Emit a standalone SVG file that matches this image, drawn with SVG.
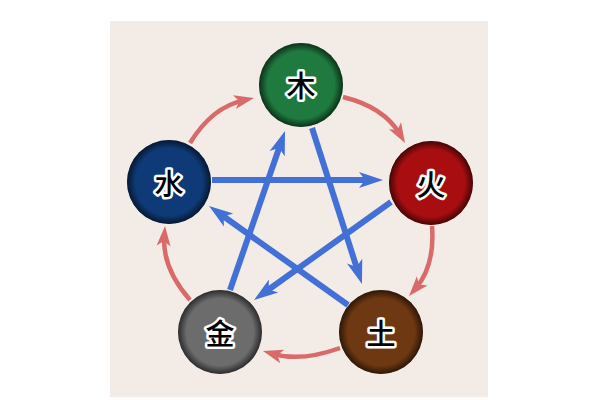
<svg xmlns="http://www.w3.org/2000/svg" width="600" height="400" viewBox="0 0 600 400">
<defs>
<style>
.bg{fill:#f3ebe6}
.node{stroke:none}
.rim{fill:url(#rim)}
.lbl{font-family:"Noto Sans CJK SC","Noto Sans CJK TC",sans-serif;font-size:29px;font-weight:500;fill:#000;stroke:#fff;stroke-width:5px;paint-order:stroke;stroke-linejoin:round;text-anchor:middle}
.gen{fill:none;stroke:#d96a6a;stroke-width:4.5;marker-end:url(#ra)}
.ctl{fill:none;stroke:#4270d6;stroke-width:6;marker-end:url(#ba)}
</style>
<radialGradient id="rim" cx="0.5" cy="0.5" r="0.5">
<stop offset="0.8" stop-color="#000" stop-opacity="0"/>
<stop offset="1" stop-color="#000" stop-opacity="0.6"/>
</radialGradient>
<marker id="ra" viewBox="-12 -9 24 18" refX="0" refY="0" markerWidth="24" markerHeight="18" markerUnits="userSpaceOnUse" orient="auto">
<path d="M10,0 L-10,-7 L-5,0 L-10,7 Z" fill="#d96a6a"/>
</marker>
<marker id="ba" viewBox="-14 -10 28 20" refX="0" refY="0" markerWidth="28" markerHeight="20" markerUnits="userSpaceOnUse" orient="auto">
<path d="M12,0 L-12,-8 L-6,0 L-12,8 Z" fill="#4270d6"/>
</marker>
</defs>
<rect class="bg" x="110" y="21" width="378" height="376"/>
<g id="connectors">
<path class="gen" d="M190,143 Q212,107 244.2,100.1"/>
<path class="gen" d="M343,97 Q384,107 400,134.4"/>
<path class="gen" d="M432,226 Q435,266 415.6,288.4"/>
<path class="gen" d="M340,348 Q301,362 272.6,353.8"/>
<path class="gen" d="M190,300 Q162,268 164.3,236"/>
<path class="ctl" d="M212,180 L371,180"/>
<path class="ctl" d="M312,128 L358.3,272.6"/>
<path class="ctl" d="M230,290 L281.1,142.3"/>
<path class="ctl" d="M391,202 L263.8,293"/>
<path class="ctl" d="M348,305 L218.8,213"/>
</g>
<g id="wood">
<circle class="node" cx="301" cy="85" r="42" fill="#1f7a3f"/>
<circle class="rim" cx="301" cy="85" r="42"/>
<text class="lbl" x="301" y="97">木</text>
</g>
<g id="fire">
<circle class="node" cx="431" cy="183" r="42" fill="#a80e10"/>
<circle class="rim" cx="431" cy="183" r="42"/>
<text class="lbl" x="431" y="196">火</text>
</g>
<g id="earth">
<circle class="node" cx="381" cy="332" r="42" fill="#6e3812"/>
<circle class="rim" cx="381" cy="332" r="42"/>
<text class="lbl" x="381" y="345">土</text>
</g>
<g id="metal">
<circle class="node" cx="220" cy="332" r="42" fill="#6c6c6c"/>
<circle class="rim" cx="220" cy="332" r="42"/>
<text class="lbl" x="220" y="345">金</text>
</g>
<g id="water">
<circle class="node" cx="169" cy="182" r="42" fill="#0f3a78"/>
<circle class="rim" cx="169" cy="182" r="42"/>
<text class="lbl" x="169" y="195">水</text>
</g>
</svg>
